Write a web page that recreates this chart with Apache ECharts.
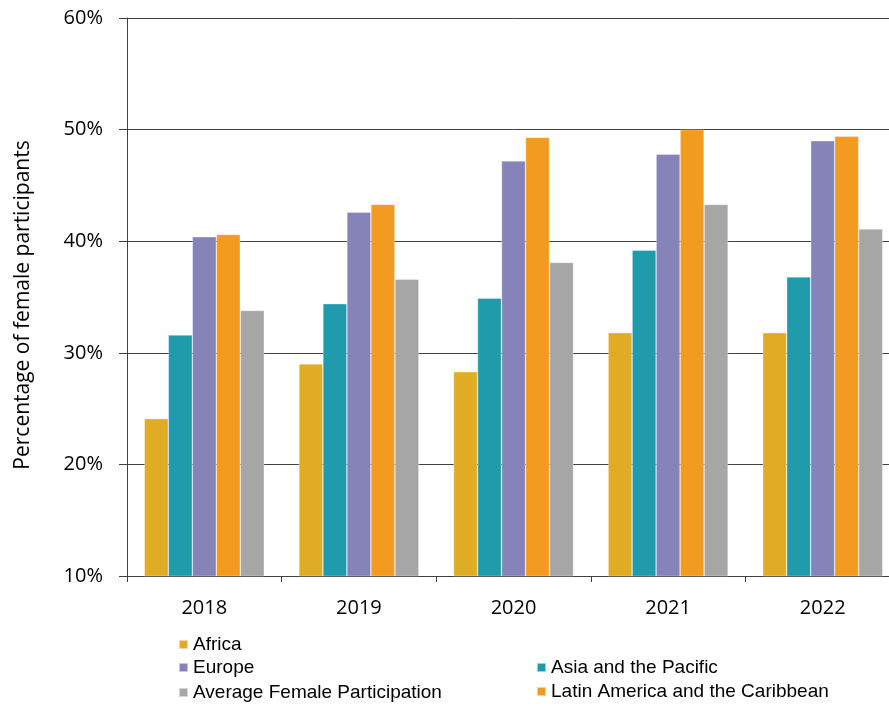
<!DOCTYPE html>
<html>
<head>
<meta charset="utf-8">
<script src="https://cdn.jsdelivr.net/npm/echarts@6/dist/echarts.min.js"></script>
<style>
  html, body { margin: 0; padding: 0; background: #fff; overflow: hidden; }
  /* the plot runs slightly past the right edge of the page */
  #chart { width: 900px; height: 706px; }
</style>
</head>
<body>
<div id="chart"></div>
<script>
// Female participation by region, per year (percent)
const years = ['2018', '2019', '2020', '2021', '2022'];
const africa = [24.1, 29.0, 28.3, 31.8, 31.8];
const asiaPacific = [31.6, 34.4, 34.9, 39.2, 36.8];
const europe = [40.4, 42.6, 47.2, 47.8, 49.0];
const latinAmerica = [40.6, 43.3, 49.3, 50.0, 49.4];
const averageFemale = [33.8, 36.6, 38.1, 43.3, 41.1];
const yTicks = { min: 10, max: 60, step: 10 };
const yTitle = 'Percentage of female participants';

const seriesDefs = [
  { name: 'Africa', data: africa, color: '#E0AC26' },
  { name: 'Asia and the Pacific', data: asiaPacific, color: '#1F9BAB' },
  { name: 'Europe', data: europe, color: '#8683B8' },
  { name: 'Latin America and the Caribbean', data: latinAmerica, color: '#F39A21' },
  { name: 'Average Female Participation', data: averageFemale, color: '#A6A6A6' }
];

const legendFont = { fontFamily: 'Liberation Sans, Arial, sans-serif', fontSize: 19, color: '#000', lineHeight: 19 };
function legendAt(name, left, top) {
  return {
    data: [name], left: left, top: top, padding: 0,
    itemWidth: 9, itemHeight: 9, itemGap: 0, icon: 'rect',
    textStyle: legendFont, selectedMode: false
  };
}

const axisFont = { color: '#000', fontFamily: 'Open Sans, sans-serif', fontSize: 20 };

const chart = echarts.init(document.getElementById('chart'), null, { renderer: 'canvas' });
chart.setOption({
  animation: false,
  backgroundColor: '#fff',
  grid: { left: 127, top: 18, right: 0, height: 558, containLabel: false },
  legend: [
    legendAt('Africa', 178, 635),
    legendAt('Europe', 178, 658),
    legendAt('Average Female Participation', 178, 683),
    legendAt('Asia and the Pacific', 536, 658),
    legendAt('Latin America and the Caribbean', 536, 682)
  ],
  // vertical axis title, sitting a little below the plot's mid-height
  graphic: [{
    type: 'text',
    x: 23, y: 305,
    rotation: Math.PI / 2,
    style: {
      text: yTitle,
      fill: '#000',
      font: '21px "Open Sans", sans-serif',
      align: 'center',
      verticalAlign: 'middle'
    }
  }],
  xAxis: {
    type: 'category',
    data: years,
    axisLine: { lineStyle: { color: '#404040', width: 1 } },
    axisTick: { show: true, length: 6, lineStyle: { color: '#404040' } },
    axisLabel: Object.assign({ margin: 22 }, axisFont)
  },
  yAxis: {
    type: 'value',
    min: yTicks.min, max: yTicks.max, interval: yTicks.step,
    axisLine: { show: true, lineStyle: { color: '#404040', width: 1 } },
    axisTick: { show: true, length: 8, lineStyle: { color: '#404040' } },
    axisLabel: Object.assign({ margin: 24, formatter: '{value}%' }, axisFont),
    splitLine: { show: true, lineStyle: { color: '#404040', width: 1 } }
  },
  series: seriesDefs.map(s => ({
    name: s.name,
    type: 'bar',
    data: s.data,
    barWidth: 24,
    barGap: '0%',
    itemStyle: { color: s.color, borderColor: 'rgba(255,255,255,0.55)', borderWidth: 0.6 },
    emphasis: { disabled: true }
  }))
});
</script>
</body>
</html>
